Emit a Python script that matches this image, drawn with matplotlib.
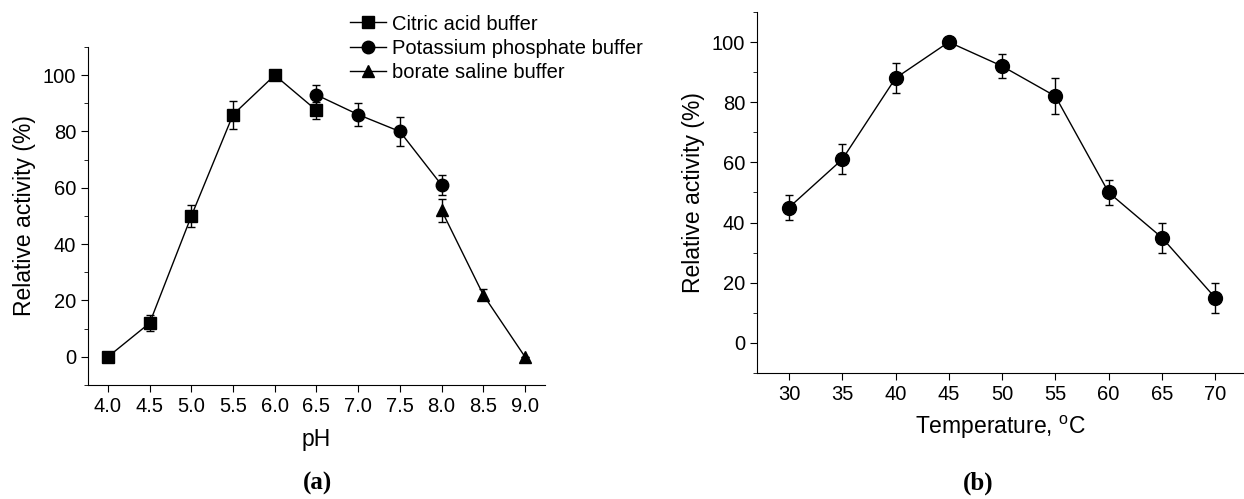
import matplotlib.pyplot as plt
from matplotlib.ticker import MultipleLocator

plt.rcParams['font.family'] = ['Liberation Sans', 'DejaVu Sans']

# panel (a): pH
ph_citric = [4.0, 4.5, 5.0, 5.5, 6.0, 6.5]
act_citric = [0, 12, 50, 86, 100, 87.5]
err_citric = [0, 3, 4, 5, 0, 3]

ph_phos = [6.5, 7.0, 7.5, 8.0]
act_phos = [93, 86, 80, 61]
err_phos = [3.5, 4, 5, 3.5]

ph_borate = [8.0, 8.5, 9.0]
act_borate = [52, 22, 0]
err_borate = [4, 2, 0]

# panel (b): temperature
temp = [30, 35, 40, 45, 50, 55, 60, 65, 70]
act_temp = [45, 61, 88, 100, 92, 82, 50, 35, 15]
err_temp = [4, 5, 5, 0, 4, 6, 4, 5, 5]

fig = plt.figure(figsize=(12.44, 4.99), dpi=100)
ax1 = fig.add_axes([0.0707, 0.2285, 0.3674, 0.6773])
ax2 = fig.add_axes([0.6085, 0.2525, 0.3915, 0.7235])

kw = dict(color='black', lw=1, elinewidth=1, capsize=3, capthick=1)
c1 = ax1.errorbar(ph_citric, act_citric, yerr=err_citric, marker='s', ms=8, **kw)
c2 = ax1.errorbar(ph_phos, act_phos, yerr=err_phos, marker='o', ms=9, **kw)
c3 = ax1.errorbar(ph_borate, act_borate, yerr=err_borate, marker='^', ms=9, **kw)
ax2.errorbar(temp, act_temp, yerr=err_temp, marker='o', ms=10, **kw)

for ax in (ax1, ax2):
    ax.spines['top'].set_visible(False)
    ax.spines['right'].set_visible(False)
    ax.set_ylim(-10, 110)
    ax.yaxis.set_major_locator(MultipleLocator(20))
    ax.yaxis.set_minor_locator(MultipleLocator(10))
    ax.tick_params(which='major', direction='out', length=5, labelsize=14.5)
    ax.tick_params(which='minor', direction='out', length=3)
    ax.set_ylabel('Relative activity (%)', fontsize=16.5, labelpad=5)

ax1.set_xlim(3.76, 9.24)
ax1.set_xticks([4.0, 4.5, 5.0, 5.5, 6.0, 6.5, 7.0, 7.5, 8.0, 8.5, 9.0])
ax1.set_xticklabels(['4.0', '4.5', '5.0', '5.5', '6.0', '6.5', '7.0', '7.5',
                     '8.0', '8.5', '9.0'])
ax1.set_xlabel('pH', fontsize=16.5, labelpad=9)

ax2.set_xlim(27, 72.7)
ax2.set_xticks(temp)
ax2.set_xlabel('Temperature, $\\mathregular{^o}$C', fontsize=16.5, labelpad=7)

ax1.legend([c1[0], c2[0], c3[0]],
           ['Citric acid buffer', 'Potassium phosphate buffer', 'borate saline buffer'],
           loc='upper left', bbox_to_anchor=(0.555, 1.12), frameon=False,
           fontsize=14.5, handlelength=1.8, handletextpad=0.3,
           labelspacing=0.27, borderaxespad=0)

fig.text(0.2555, 0.018, '(a)', fontsize=18, fontweight='bold',
         family='Liberation Serif', ha='center')
fig.text(0.786, 0.018, '(b)', fontsize=18, fontweight='bold',
         family='Liberation Serif', ha='center')

fig.savefig('out.png', dpi=100)
